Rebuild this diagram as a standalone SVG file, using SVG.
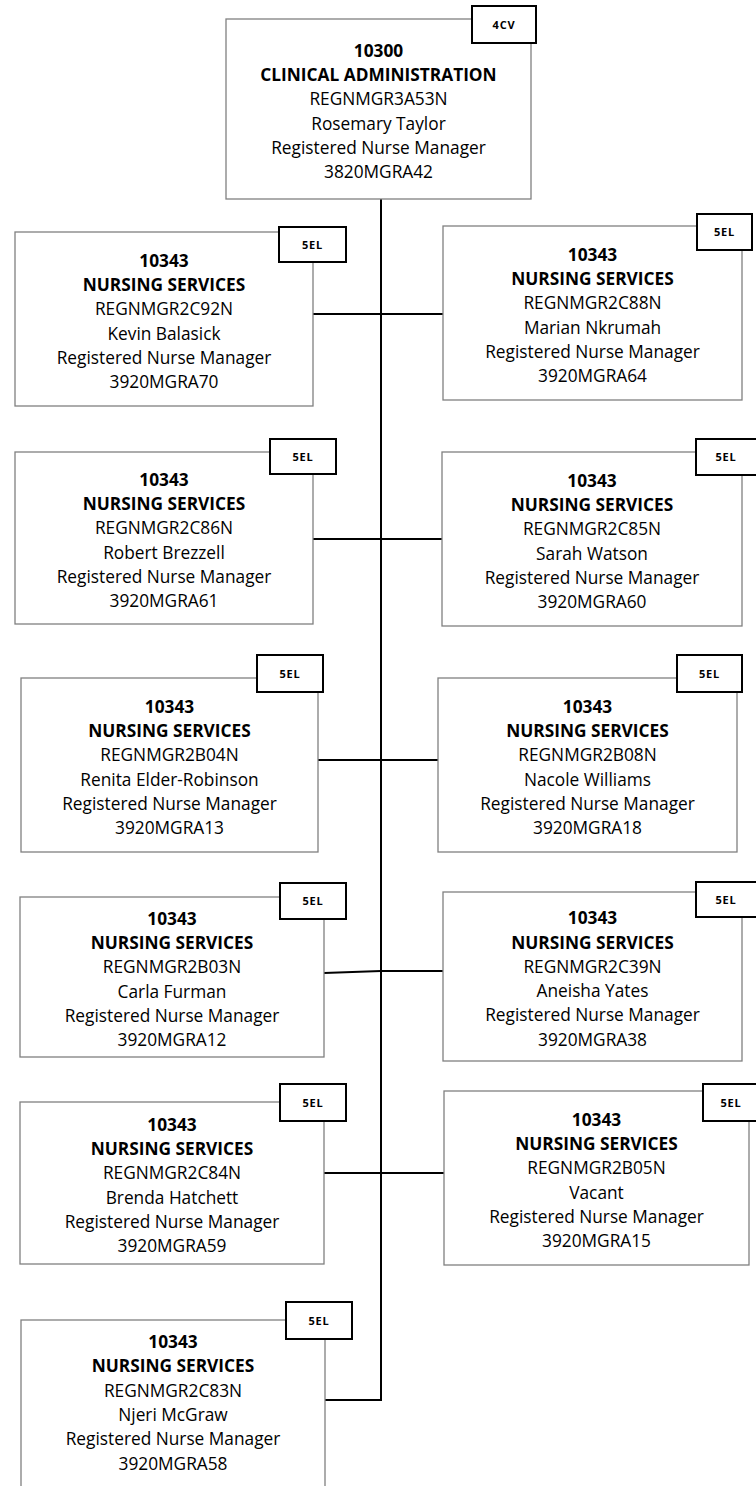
<svg xmlns="http://www.w3.org/2000/svg" width="756" height="1486" viewBox="0 0 756 1486">
<style>
.box{fill:#fff;stroke:#808080;stroke-width:1.3}
.tag{fill:#fff;stroke:#000;stroke-width:2}
.t{font-family:'Open Sans','DejaVu Sans',sans-serif;font-size:17.3px;text-anchor:middle;fill:#000}
.b{font-weight:bold}
.tt{font-family:'Open Sans','DejaVu Sans',sans-serif;font-size:11px;letter-spacing:0.8px;font-weight:bold;text-anchor:middle;fill:#000}
.conn{stroke:#000;stroke-width:2;fill:none}
</style>
<rect width="756" height="1486" fill="#fff"/>
<g id="connectors">
<line class="conn" x1="381" y1="199" x2="381" y2="1401"/>
<line class="conn" x1="313" y1="314" x2="443" y2="314"/>
<line class="conn" x1="313" y1="539" x2="442" y2="539"/>
<line class="conn" x1="318" y1="760" x2="438" y2="760"/>
<polyline class="conn" points="324,973 381,971 443,971"/>
<line class="conn" x1="324" y1="1173" x2="444" y2="1173"/>
<polyline class="conn" points="381,1400 325,1400"/>
</g>
<g id="n10300">
<rect class="box" x="226" y="19" width="305" height="180"/>
<rect class="tag" x="472" y="6" width="64" height="37"/>
<text class="tt" x="504" y="28.5">4CV</text>
<text class="t b" x="378.5" y="56.7">10300</text>
<text class="t b" x="378.5" y="81">CLINICAL ADMINISTRATION</text>
<text class="t" x="378.5" y="105.3">REGNMGR3A53N</text>
<text class="t" x="378.5" y="129.6">Rosemary Taylor</text>
<text class="t" x="378.5" y="153.9">Registered Nurse Manager</text>
<text class="t" x="378.5" y="178.2">3820MGRA42</text>
</g>
<g id="n2C92N">
<rect class="box" x="15" y="232" width="298" height="174"/>
<rect class="tag" x="279" y="227" width="67" height="35"/>
<text class="tt" x="312.5" y="248.5">5EL</text>
<text class="t b" x="164" y="266.7">10343</text>
<text class="t b" x="164" y="291">NURSING SERVICES</text>
<text class="t" x="164" y="315.3">REGNMGR2C92N</text>
<text class="t" x="164" y="339.6">Kevin Balasick</text>
<text class="t" x="164" y="363.9">Registered Nurse Manager</text>
<text class="t" x="164" y="388.2">3920MGRA70</text>
</g>
<g id="n2C88N">
<rect class="box" x="443" y="226" width="299" height="174"/>
<rect class="tag" x="697" y="214" width="55" height="36"/>
<text class="tt" x="724.5" y="236">5EL</text>
<text class="t b" x="592.5" y="260.7">10343</text>
<text class="t b" x="592.5" y="285">NURSING SERVICES</text>
<text class="t" x="592.5" y="309.3">REGNMGR2C88N</text>
<text class="t" x="592.5" y="333.6">Marian Nkrumah</text>
<text class="t" x="592.5" y="357.9">Registered Nurse Manager</text>
<text class="t" x="592.5" y="382.2">3920MGRA64</text>
</g>
<g id="n2C86N">
<rect class="box" x="15" y="452" width="298" height="172"/>
<rect class="tag" x="270" y="439" width="66" height="35"/>
<text class="tt" x="303" y="460.5">5EL</text>
<text class="t b" x="164" y="485.7">10343</text>
<text class="t b" x="164" y="510">NURSING SERVICES</text>
<text class="t" x="164" y="534.3">REGNMGR2C86N</text>
<text class="t" x="164" y="558.6">Robert Brezzell</text>
<text class="t" x="164" y="582.9">Registered Nurse Manager</text>
<text class="t" x="164" y="607.2">3920MGRA61</text>
</g>
<g id="n2C85N">
<rect class="box" x="442" y="452" width="300" height="174"/>
<rect class="tag" x="696" y="439" width="64" height="36"/>
<text class="tt" x="726" y="461">5EL</text>
<text class="t b" x="592" y="486.7">10343</text>
<text class="t b" x="592" y="511">NURSING SERVICES</text>
<text class="t" x="592" y="535.3">REGNMGR2C85N</text>
<text class="t" x="592" y="559.6">Sarah Watson</text>
<text class="t" x="592" y="583.9">Registered Nurse Manager</text>
<text class="t" x="592" y="608.2">3920MGRA60</text>
</g>
<g id="n2B04N">
<rect class="box" x="21" y="678" width="297" height="174"/>
<rect class="tag" x="257" y="655" width="66" height="37"/>
<text class="tt" x="290" y="677.5">5EL</text>
<text class="t b" x="169.5" y="712.7">10343</text>
<text class="t b" x="169.5" y="737">NURSING SERVICES</text>
<text class="t" x="169.5" y="761.3">REGNMGR2B04N</text>
<text class="t" x="169.5" y="785.6">Renita Elder-Robinson</text>
<text class="t" x="169.5" y="809.9">Registered Nurse Manager</text>
<text class="t" x="169.5" y="834.2">3920MGRA13</text>
</g>
<g id="n2B08N">
<rect class="box" x="438" y="678" width="299" height="174"/>
<rect class="tag" x="677" y="655" width="65" height="37"/>
<text class="tt" x="709.5" y="677.5">5EL</text>
<text class="t b" x="587.5" y="712.7">10343</text>
<text class="t b" x="587.5" y="737">NURSING SERVICES</text>
<text class="t" x="587.5" y="761.3">REGNMGR2B08N</text>
<text class="t" x="587.5" y="785.6">Nacole Williams</text>
<text class="t" x="587.5" y="809.9">Registered Nurse Manager</text>
<text class="t" x="587.5" y="834.2">3920MGRA18</text>
</g>
<g id="n2B03N">
<rect class="box" x="20" y="897" width="304" height="160"/>
<rect class="tag" x="280" y="883" width="66" height="36"/>
<text class="tt" x="313" y="905">5EL</text>
<text class="t b" x="172" y="924.7">10343</text>
<text class="t b" x="172" y="949">NURSING SERVICES</text>
<text class="t" x="172" y="973.3">REGNMGR2B03N</text>
<text class="t" x="172" y="997.6">Carla Furman</text>
<text class="t" x="172" y="1021.9">Registered Nurse Manager</text>
<text class="t" x="172" y="1046.2">3920MGRA12</text>
</g>
<g id="n2C39N">
<rect class="box" x="443" y="892" width="299" height="169"/>
<rect class="tag" x="696" y="882" width="64" height="35"/>
<text class="tt" x="726" y="903.5">5EL</text>
<text class="t b" x="592.5" y="924.2">10343</text>
<text class="t b" x="592.5" y="948.5">NURSING SERVICES</text>
<text class="t" x="592.5" y="972.8">REGNMGR2C39N</text>
<text class="t" x="592.5" y="997.1">Aneisha Yates</text>
<text class="t" x="592.5" y="1021.4">Registered Nurse Manager</text>
<text class="t" x="592.5" y="1045.7">3920MGRA38</text>
</g>
<g id="n2C84N">
<rect class="box" x="20" y="1102" width="304" height="162"/>
<rect class="tag" x="280" y="1084" width="66" height="37"/>
<text class="tt" x="313" y="1106.5">5EL</text>
<text class="t b" x="172" y="1130.7">10343</text>
<text class="t b" x="172" y="1155">NURSING SERVICES</text>
<text class="t" x="172" y="1179.3">REGNMGR2C84N</text>
<text class="t" x="172" y="1203.6">Brenda Hatchett</text>
<text class="t" x="172" y="1227.9">Registered Nurse Manager</text>
<text class="t" x="172" y="1252.2">3920MGRA59</text>
</g>
<g id="n2B05N">
<rect class="box" x="444" y="1091" width="305" height="174"/>
<rect class="tag" x="703" y="1084" width="57" height="37"/>
<text class="tt" x="731" y="1106.5">5EL</text>
<text class="t b" x="596.5" y="1125.7">10343</text>
<text class="t b" x="596.5" y="1150">NURSING SERVICES</text>
<text class="t" x="596.5" y="1174.3">REGNMGR2B05N</text>
<text class="t" x="596.5" y="1198.6">Vacant</text>
<text class="t" x="596.5" y="1222.9">Registered Nurse Manager</text>
<text class="t" x="596.5" y="1247.2">3920MGRA15</text>
</g>
<g id="n2C83N">
<rect class="box" x="21" y="1320" width="304" height="200"/>
<rect class="tag" x="286" y="1302" width="66" height="37"/>
<text class="tt" x="319" y="1324.5">5EL</text>
<text class="t b" x="173" y="1348">10343</text>
<text class="t b" x="173" y="1372.3">NURSING SERVICES</text>
<text class="t" x="173" y="1396.6">REGNMGR2C83N</text>
<text class="t" x="173" y="1420.9">Njeri McGraw</text>
<text class="t" x="173" y="1445.2">Registered Nurse Manager</text>
<text class="t" x="173" y="1469.5">3920MGRA58</text>
</g>
</svg>
